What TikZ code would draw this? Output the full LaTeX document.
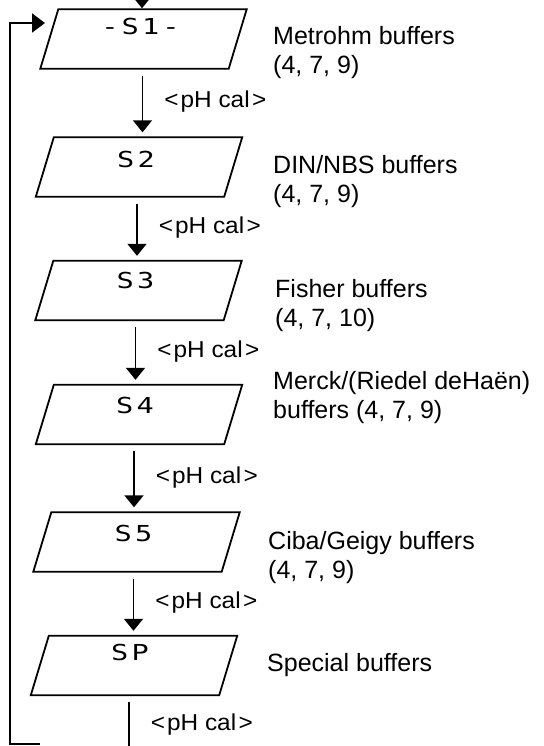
\documentclass[tikz,border=0pt]{standalone}
\usepackage{fontspec}
\setmainfont{Liberation Sans}
\newfontfamily\lcdfont[LetterSpace=14,FakeStretch=1.3]{DejaVu Sans Mono}
\newfontfamily\calfont[FakeStretch=1.06]{Liberation Sans}
\usetikzlibrary{arrows.meta,calc}
\begin{document}
\begin{tikzpicture}[x=1pt,y=-1pt,
  box/.style={rectangle, minimum width=188pt, minimum height=59pt, inner sep=0pt},
  boxline/.style={line width=1.8pt, line join=miter},
  code/.style={inner sep=0pt, font=\lcdfont\fontsize{22}{22}\selectfont},
  flow/.style={line width=1.8pt, -{Triangle[width=19pt,length=12pt]},
    shorten <=7pt, shorten >=5pt},
  loopline/.style={line width=1.8pt, -{Triangle[width=19pt,length=13pt]}},
  cal/.style={midway, anchor=west, xshift=21pt, yshift=1pt, inner sep=0pt,
    font=\calfont\fontsize{23}{23}\selectfont},
  desc/.style={anchor=west, align=left, inner sep=0pt,
    font=\fontsize{25}{29}\selectfont}
]
\clip (0,0) rectangle (543,746);

% boxes
\node[box] (s1) at (143.5,39) {};
\node[box] (s2) at (139,167) {};
\node[box] (s3) at (138.5,290.5) {};
\node[box] (s4) at (139,414.5) {};
\node[box] (s5) at (136.5,542) {};
\node[box] (sp) at (134,665.5) {};
\foreach \n in {s1,s2,s3,s4,s5,sp}
  \draw[boxline] ([xshift=9pt]\n.north west) -- ([xshift=9pt]\n.north east)
    -- ([xshift=-9pt]\n.south east) -- ([xshift=-9pt]\n.south west) -- cycle;

% codes inside boxes
\node[code] (t1) at ($(s1)+(-3,-13)$) {-S1-};
\node[code] (t2) at ($(s2)+(-3,-8)$) {S2};
\node[code] (t3) at ($(s3)+(-3,-10)$) {S3};
\node[code] (t4) at ($(s4)+(-4,-9)$) {S4};
\node[code] (t5) at ($(s5)+(-3,-9)$) {S5};
\node[code] (t6) at ($(sp)+(-4,-13)$) {SP};

% descriptions
\node[desc] (d1) at (273,52.5) {Metrohm buffers\\(4, 7, 9)};
\node[desc] (d2) at (273,182) {DIN/NBS buffers\\(4, 7, 9)};
\node[desc] (d3) at (275,306) {Fisher buffers\\(4, 7, 10)};
\node[desc] (d4) at (273,397.5) {Merck/(Riedel deHaën)\\buffers (4, 7, 9)};
\node[desc] (d5) at (268,558) {Ciba/Geigy buffers\\(4, 7, 9)};
\node[desc] (d6) at (267,665) {Special buffers};

% flow arrows
\newcommand\caltext{<\hspace{2pt}pH cal\hspace{2.5pt}>}
\draw[flow] ([xshift=-1pt]s1.south) -- node[cal] (c1) {\caltext} ([xshift=-1pt]s1.south |- s2.north);
\draw[flow] ([xshift=-2pt]s2.south) -- node[cal] (c2) {\caltext} ([xshift=-2pt]s2.south |- s3.north);
\draw[flow] ([xshift=-3pt]s3.south) -- node[cal] (c3) {\caltext} ([xshift=-3pt]s3.south |- s4.north);
\draw[flow] ([xshift=-5pt]s4.south) -- node[cal] (c4) {\caltext} ([xshift=-5pt]s4.south |- s5.north);
\draw[flow] ([xshift=-3pt]s5.south) -- node[cal] (c5) {\caltext} ([xshift=-3pt]s5.south |- sp.north);

% exit line
\coordinate (bot) at (129,765);
\draw[line width=1.8pt, shorten <=7pt] ([xshift=-5pt]sp.south) -- node[cal, pos=0.48, yshift=3pt] (c6) {\caltext} ([xshift=-5pt]sp.south |- bot);

% entry arrow at top
\coordinate (in) at (142,-30);
\draw[line width=1.8pt, -{Triangle[width=19pt,length=12pt]}, shorten >=1pt] (in) -- (in |- s1.north);

% return loop
\coordinate (la) at (40,744);
\coordinate (lb) at (10,744);
\coordinate (lc) at (10,23);
\coordinate (ld) at (45,23);
\draw[loopline] (la) -- (lb) -- (lc) -- (ld);
\end{tikzpicture}
\end{document}
